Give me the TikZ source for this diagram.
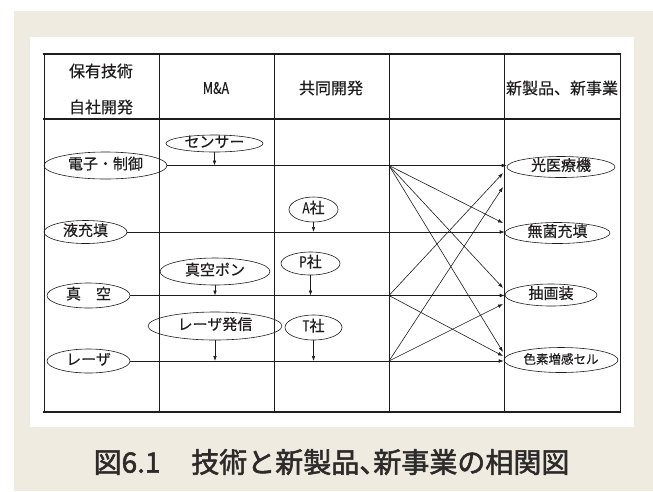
\documentclass[tikz,border=0pt]{standalone}
\usepackage{fontspec}
\usepackage{graphicx}
\usetikzlibrary{shapes.geometric,arrows.meta}
\setmainfont[FakeBold=0.4]{Noto Sans CJK JP}
\newfontfamily\capfont[FakeBold=2]{Noto Sans CJK JP}
\definecolor{beige}{RGB}{239,235,225}
\definecolor{ink}{RGB}{30,28,28}
\definecolor{captxt}{RGB}{45,42,42}
\newcommand{\narrowtxt}[1]{\scalebox{0.78}[1]{#1}}
\begin{document}
\begin{tikzpicture}[x=1pt,y=-1pt,
  body/.style={font=\fontsize{15}{17}\selectfont, text=ink},
  head/.style={font=\fontsize{16}{18}\selectfont, text=ink},
  oval/.style={ellipse, draw=ink, line width=0.6pt, inner sep=0pt,
    text height=0.76em, text depth=0pt, body},
  conn/.style={draw=ink, line width=0.6pt, -{Latex[length=5pt,width=3.6pt]}},
  thickrule/.style={draw=ink, line width=1.8pt},
  thinrule/.style={draw=ink, line width=0.8pt}]
\useasboundingbox (0,0) rectangle (653,491);
\fill[white] (0,0) rectangle (653,491);
\fill[beige] (14,11) rectangle (653,491);
\fill[white] (30,37) rectangle (634,427);

% table
\draw[thinrule] (44,54) -- (44,412);
\draw[thinrule] (620,54) -- (620,412);
\foreach \x in {159,274,389,504} \draw[thinrule] (\x,54) -- (\x,412);
\draw[thickrule] (43,54) -- (621,54);
\draw[thickrule] (43,119) -- (621,119);
\draw[thickrule] (43,412) -- (621,412);

% headers
\node[head] (h1a) at (101,71) {保有技術};
\node[head] (h1b) at (101,107) {自社開発};
\node[head] (h2) at (216,88) {\narrowtxt{M\&A}};
\node[head] (h3) at (331,88) {共同開発};
\node[head] (h5) at (562,88) {新製品、新事業};

% left ellipses
\node[oval, minimum width=123, minimum height=27] (L1) at (105.5,165.5) {電子・制御};
\node[oval, minimum width=83, minimum height=23] (L2) at (85.5,232) {液充填};
\node[oval, minimum width=83, minimum height=25] (L3) at (88.5,295.5) {真　空};
\node[oval, minimum width=83, minimum height=24] (L4) at (88.5,361) {レーザ};

% right ellipses
\node[oval, minimum width=108, minimum height=21] (R1) at (561,167) {光医療機};
\node[oval, minimum width=105, minimum height=21] (R2) at (557.5,233) {無菌充填};
\node[oval, minimum width=92, minimum height=22] (R3) at (551,295) {抽画装};
\node[oval, minimum width=114, minimum height=25, font=\fontsize{12.5}{14}\selectfont] (R4) at (561,360) {色素増感セル};

% middle ellipses
\node[oval, minimum width=97, minimum height=17] (ms) at (214.5,143.5) {センサー};
\node[oval, minimum width=110, minimum height=27] (mv) at (215,271.5) {真空ポン};
\node[oval, minimum width=134, minimum height=28] (ml) at (215,326) {レーザ発信};
\node[oval, minimum width=49, minimum height=25] (ja) at (313.5,209.5) {\narrowtxt{A}社};
\node[oval, minimum width=59, minimum height=23] (jp) at (310.5,263.5) {\narrowtxt{P}社};
\node[oval, minimum width=57, minimum height=25] (jt) at (313.5,327.5) {\narrowtxt{T}社};

% small down arrows
\draw[conn] (ms.south) -- (ms.south |- L1.east);
\draw[conn] (ja.south) -- (ja.south |- L2.east);
\draw[conn] (jp.south) -- (jp.south |- L3.east);
\draw[conn] (mv.south) -- (mv.south |- L3.east);
\draw[conn] (ml.south) -- (ml.south |- L4.east);
\draw[conn] (jt.south) -- (jt.south |- L4.east);

% straight arrows
\draw[conn] (L1.east) -- (L1.east -| R1.west);
\draw[conn] (L2.east) -- (L2.east -| R2.west);
\draw[conn] (L3.east) -- (L3.east -| R3.west);
\draw[conn] (L4.east) -- (L4.east -| R4.west);

% fan points
\coordinate (S1) at (389,165.5);
\coordinate (S3) at (389,295.5);
\coordinate (S4) at (389,361);
\coordinate (T1a) at (503,173);
\coordinate (T1b) at (503,187);
\coordinate (T2a) at (503,223);
\coordinate (T3a) at (503,288);
\coordinate (T3b) at (503,304);
\coordinate (T4a) at (503,352);
\coordinate (T4b) at (503,356);

\draw[conn] (S1) -- (T2a);
\draw[conn] (S1) -- (T3a);
\draw[conn] (S1) -- (T4a);
\draw[conn] (S3) -- (T1a);
\draw[conn] (S3) -- (T4b);
\draw[conn] (S4) -- (T1b);
\draw[conn] (S4) -- (T3b);

% caption
\node[font=\capfont\fontsize{28}{31}\selectfont, text=captxt] (cap) at (331.5,462)
  {図6.1\hspace{1.1em}技術と新製品、\kern-0.5em 新事業の相関図};
\end{tikzpicture}
\end{document}
